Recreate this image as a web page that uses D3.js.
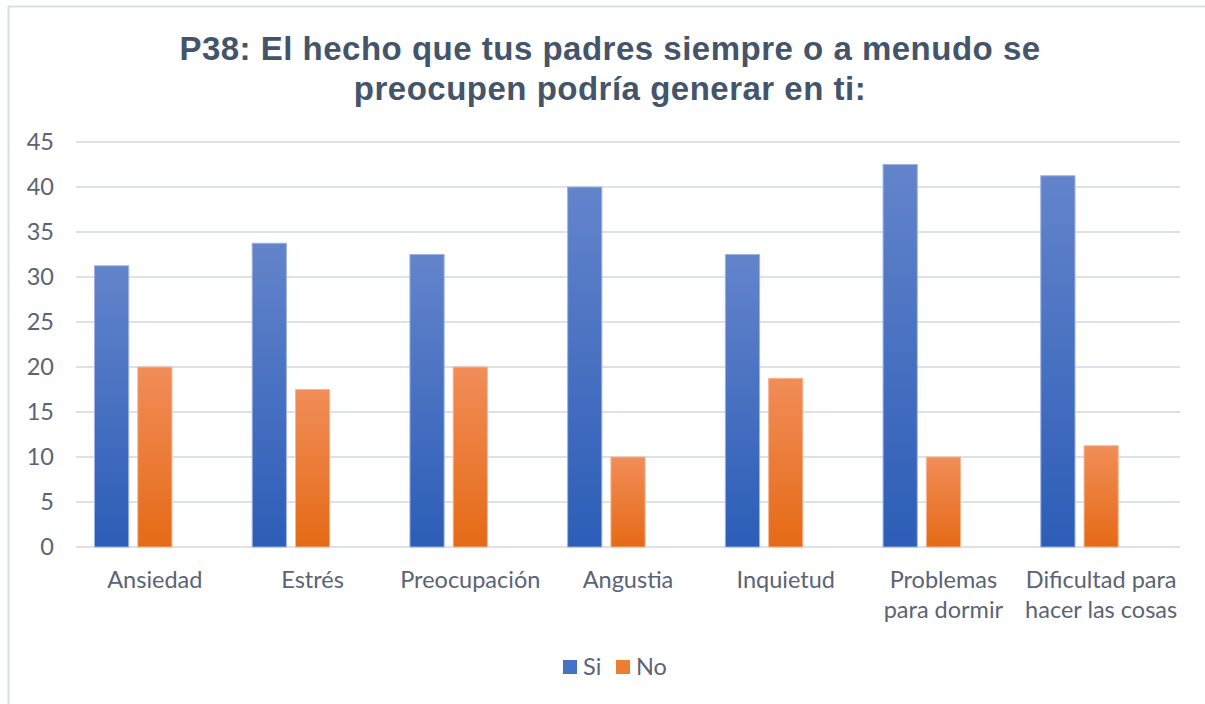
<!DOCTYPE html>
<html>
<head>
<meta charset="utf-8">
<script src="https://cdn.jsdelivr.net/npm/d3@7"></script>
<style>
  body { margin: 0; background: #fff; }
  svg { display: block; }
</style>
</head>
<body>
<script>
// chart size
var width = 1205;
var height = 704;

// data
var categories = [
  ["Ansiedad"],
  ["Estrés"],
  ["Preocupación"],
  ["Angustia"],
  ["Inquietud"],
  ["Problemas", "para dormir"],
  ["Dificultad para", "hacer las cosas"]
];
var si = [31.25, 33.75, 32.5, 40, 32.5, 42.5, 41.25];
var no = [20, 17.5, 20, 10, 18.75, 10, 11.25];
var yTicks = [0, 5, 10, 15, 20, 25, 30, 35, 40, 45];
var seriesNames = ["Si", "No"];

var labelColor = "#5a6474";
var labelFont = "Lato, 'Open Sans', sans-serif";

var svg = d3.select("body").append("svg")
  .attr("width", width)
  .attr("height", height);

// gradients like the excel bars
var defs = svg.append("defs");
function grad(id, top, bottom) {
  var g = defs.append("linearGradient").attr("id", id)
    .attr("x1", 0).attr("y1", 0).attr("x2", 0).attr("y2", 1);
  g.append("stop").attr("offset", "0%").attr("stop-color", top);
  g.append("stop").attr("offset", "100%").attr("stop-color", bottom);
}
grad("gSi", "#6384cb", "#2c5db7");
grad("gNo", "#f18d58", "#e56a16");
var fills = { Si: "url(#gSi)", No: "url(#gNo)" };
var strokes = { Si: "#9db3e0", No: "#f6b894" };
var legendColors = { Si: "#4472c4", No: "#ed7d31" };

// outer border (left + top only visible)
svg.append("line").attr("x1", 8.5).attr("x2", 8.5).attr("y1", 6).attr("y2", height)
  .attr("stroke", "#d9dde5").attr("stroke-width", 2);
svg.append("line").attr("x1", 8).attr("x2", width).attr("y1", 6.5).attr("y2", 6.5)
  .attr("stroke", "#d9dde5").attr("stroke-width", 2);

// title
var title = svg.append("text")
  .attr("text-anchor", "middle")
  .attr("font-family", "'Liberation Sans', Arial, sans-serif")
  .attr("font-weight", "bold")
  .attr("font-size", "33px")
  .attr("letter-spacing", "0.5px")
  .attr("fill", "#44546a");
title.append("tspan").attr("x", 610).attr("y", 60).text("P38: El hecho que tus padres siempre o a menudo se");
title.append("tspan").attr("x", 610).attr("y", 100).text("preocupen podría generar en ti:");

// scales
var x0 = d3.scaleBand()
  .domain(d3.range(categories.length))
  .range([76, 1180]);

// third empty slot, excel left room for it
var x1 = d3.scaleBand()
  .domain(["Si", "No", "_"])
  .range([18, x0.bandwidth() - 18])
  .paddingInner(0.186);

var y = d3.scaleLinear().domain([0, 45]).range([547, 142]);

// gridlines
svg.append("g")
  .selectAll("line")
  .data(yTicks)
  .enter().append("line")
  .attr("x1", 76).attr("x2", 1180)
  .attr("y1", function(d) { return y(d); })
  .attr("y2", function(d) { return y(d); })
  .attr("stroke", "#dde1e8")
  .attr("stroke-width", 2);

// y axis labels
var yAxis = svg.append("g")
  .attr("transform", "translate(54,0)")
  .call(d3.axisLeft(y).tickValues(yTicks).tickSize(0).tickPadding(0));
yAxis.select(".domain").remove();
yAxis.selectAll("text")
  .attr("font-family", labelFont)
  .attr("font-size", "23.5px")
  .attr("fill", labelColor);

// bars
var rows = categories.map(function(c, i) { return { i: i, Si: si[i], No: no[i] }; });

var groups = svg.append("g").selectAll("g")
  .data(rows)
  .enter().append("g")
  .attr("transform", function(d) { return "translate(" + x0(d.i) + ",0)"; });

groups.selectAll("rect")
  .data(function(d) { return seriesNames.map(function(k) { return { key: k, value: d[k] }; }); })
  .enter().append("rect")
  .attr("x", function(d) { return x1(d.key) + 0.5; })
  .attr("y", function(d) { return y(d.value); })
  .attr("width", x1.bandwidth() - 1)
  .attr("height", function(d) { return y(0) - y(d.value); })
  .attr("fill", function(d) { return fills[d.key]; })
  .attr("stroke", function(d) { return strokes[d.key]; })
  .attr("stroke-width", 1);

// x axis labels (wrapped)
var xLabels = svg.append("g").selectAll("text")
  .data(categories)
  .enter().append("text")
  .attr("text-anchor", "middle")
  .attr("font-family", labelFont)
  .attr("font-size", "23.5px")
  .attr("fill", labelColor);
xLabels.each(function(lines, i) {
  var t = d3.select(this);
  lines.forEach(function(l, j) {
    t.append("tspan")
      .attr("x", x0(i) + x0.bandwidth() / 2)
      .attr("y", 588 + j * 30)
      .text(l);
  });
});

// legend
var legend = svg.append("g").attr("transform", "translate(563,660)");
var legX = [0, 53];
seriesNames.forEach(function(k, i) {
  legend.append("rect")
    .attr("x", legX[i]).attr("y", 0)
    .attr("width", 14).attr("height", 14)
    .attr("fill", legendColors[k]);
  legend.append("text")
    .attr("x", legX[i] + 20).attr("y", 15)
    .attr("font-family", labelFont)
    .attr("font-size", "23.5px")
    .attr("fill", labelColor)
    .text(k);
});
</script>
</body>
</html>
